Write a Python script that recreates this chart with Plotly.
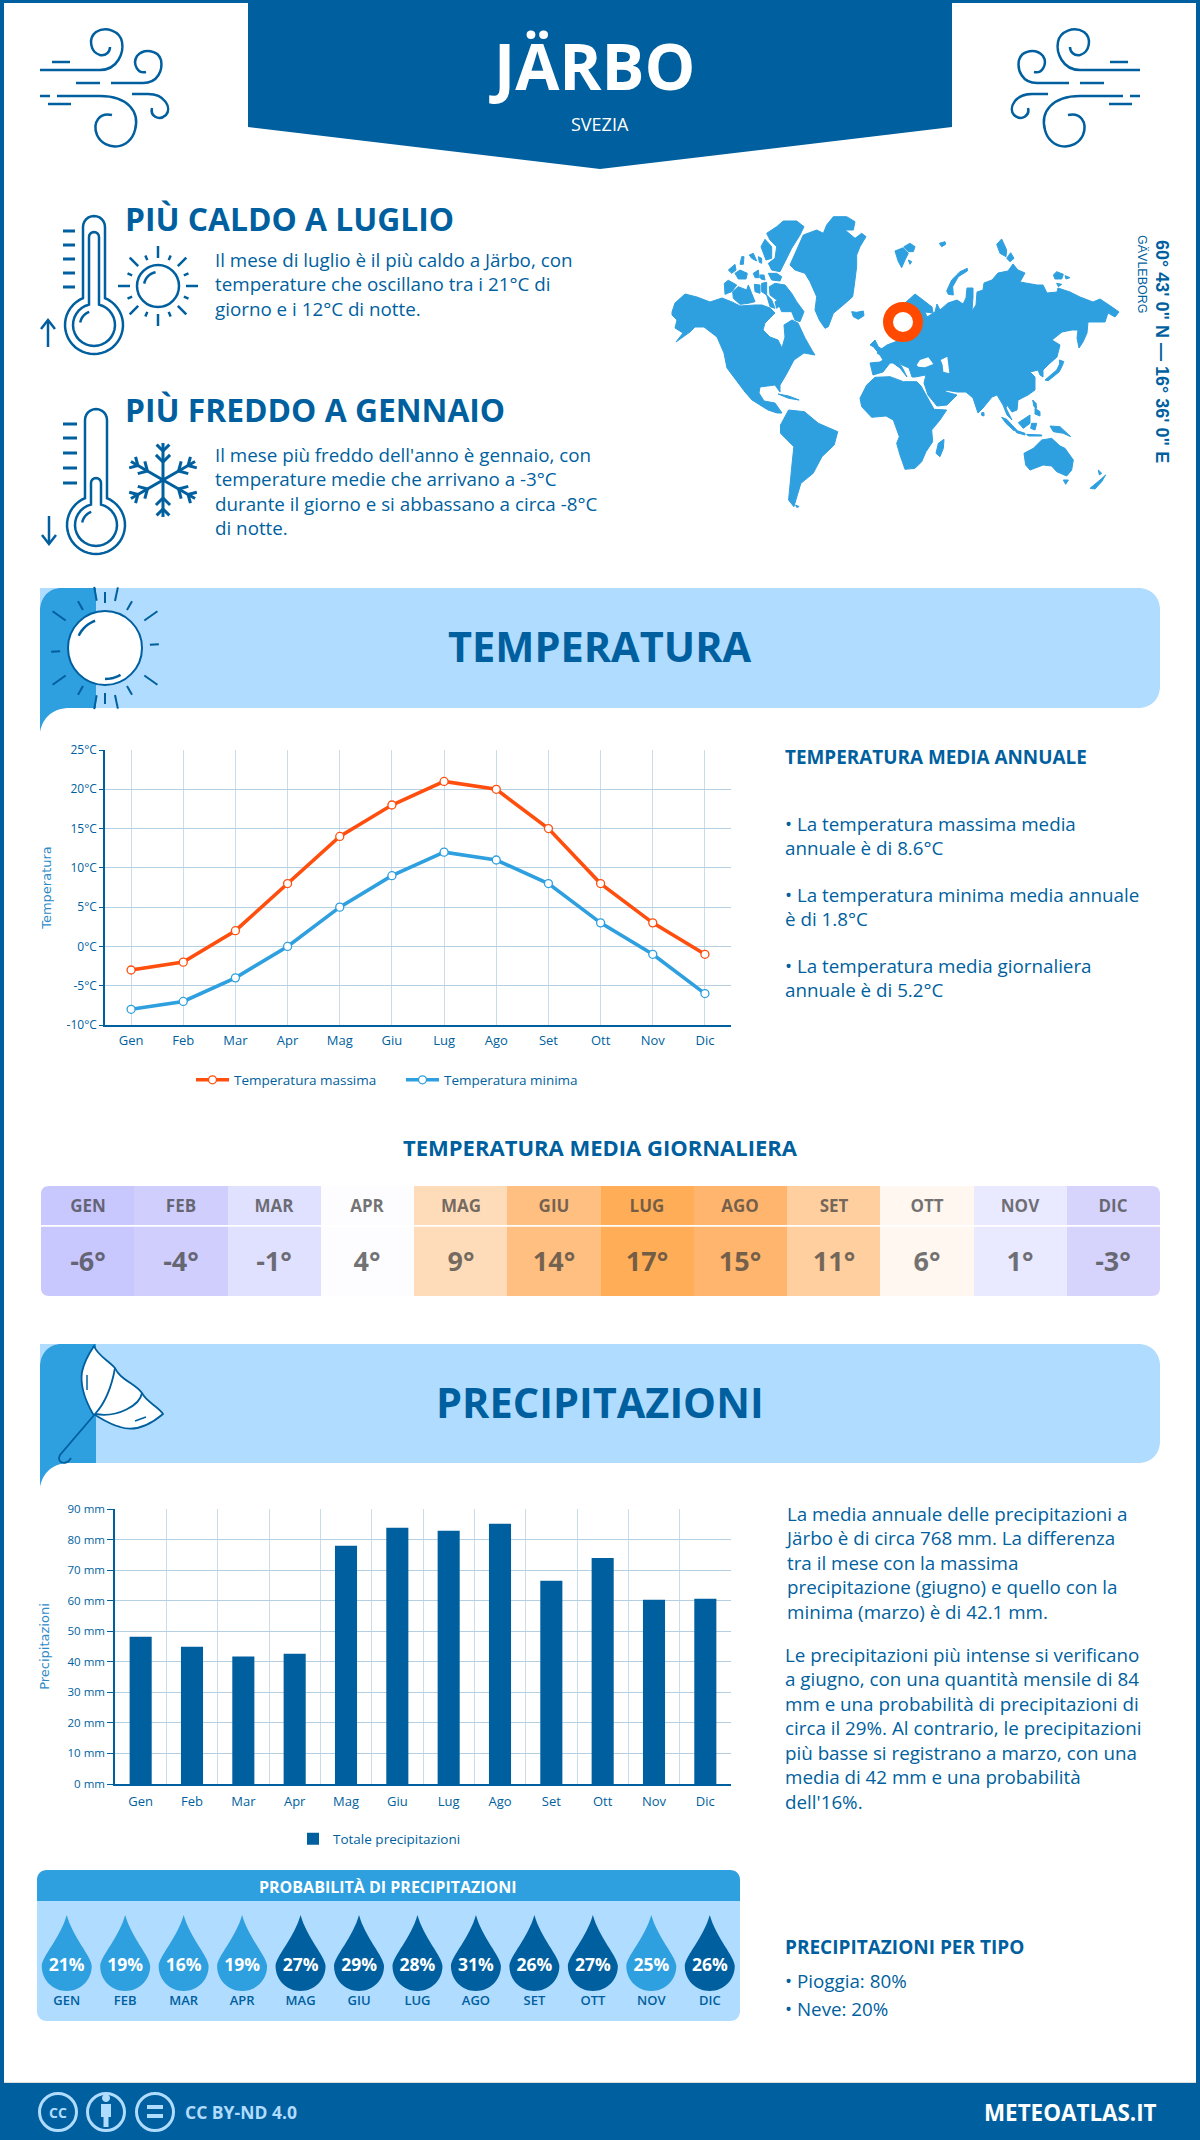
import math
import plotly.graph_objects as go

W, H = 1200, 2140
BLUE = "#005f9e"
MID = "#2e9fdf"
PALE = "#b0dcff"
ORANGE = "#ff4e0d"

months = ["Gen", "Feb", "Mar", "Apr", "Mag", "Giu", "Lug", "Ago", "Set", "Ott", "Nov", "Dic"]
months_up = ["GEN", "FEB", "MAR", "APR", "MAG", "GIU", "LUG", "AGO", "SET", "OTT", "NOV", "DIC"]
temp_max = [-3, -2, 2, 8, 14, 18, 21, 20, 15, 8, 3, -1]
temp_min = [-8, -7, -4, 0, 5, 9, 12, 11, 8, 3, -1, -6]
temp_ticks = [-10, -5, 0, 5, 10, 15, 20, 25]
temp_ticktext = ["-10°C", "-5°C", "0°C", "5°C", "10°C", "15°C", "20°C", "25°C"]
temp_daily = [-6, -4, -1, 4, 9, 14, 17, 15, 11, 6, 1, -3]
temp_daily_text = ["-6°", "-4°", "-1°", "4°", "9°", "14°", "17°", "15°", "11°", "6°", "1°", "-3°"]
daily_scale = [(-6, "#c8c7fe"), (-4, "#cfcefd"), (-3, "#d6d4fd"), (-1, "#e0e0ff"), (1, "#e9e9ff"),
               (4, "#fdfdff"), (6, "#fff7f0"), (9, "#fedcb9"), (11, "#ffcf9f"), (14, "#ffbf80"),
               (15, "#ffb56d"), (17, "#ffad57")]
rain = [48.2, 44.9, 41.7, 42.6, 78, 83.9, 82.9, 85.2, 66.5, 74, 60.3, 60.6]
rain_ticks = [0, 10, 20, 30, 40, 50, 60, 70, 80, 90]
rain_ticktext = ["0 mm", "10 mm", "20 mm", "30 mm", "40 mm", "50 mm", "60 mm", "70 mm", "80 mm", "90 mm"]
rain_prob = [21, 19, 16, 19, 27, 29, 28, 31, 26, 27, 25, 26]
prob_dark = [False, False, False, False, True, True, True, True, True, True, False, True]

# map outlines
NA = [(672,312),(675,303),(685,294),(697,297),(710,302),(722,298),(732,302),(740,306),(755,305),(762,305),
      (770,308),(775,313),(765,323),(763,330),(770,337),(778,340),(782,348),(785,337),(784,325),(792,320),
      (798,323),(805,338),(813,352),(815,355),(804,353),(794,360),(786,375),(780,385),(780,392),(775,385),
      (760,387),(759,393),(764,401),(775,403),(782,413),(777,413),(768,410),(752,400),(745,392),(736,380),
      (727,368),(724,353),(717,337),(704,327),(695,327),(690,332),(676,342),(683,333),(675,328),(677,320),(672,315)]
EURASIA = [(880,350),(887,345),(900,340),(905,303),(915,294),(923,300),(932,307),(933,313),(925,312),(927,317),
           (935,312),(937,304),(940,310),(948,303),(957,300),(963,304),(966,298),(967,288),(973,288),(973,297),
           (972,311),(976,305),(977,292),(983,290),(984,283),(992,280),(998,273),(1008,271),(1013,264),(1018,270),
           (1025,273),(1020,282),(1037,285),(1043,285),(1047,293),(1057,292),(1058,288),(1070,292),(1080,297),
           (1093,302),(1100,299),(1112,307),(1119,312),(1115,317),(1108,313),(1105,322),(1097,322),(1088,322),
           (1087,333),(1083,342),(1079,348),(1077,338),(1078,330),(1072,330),(1062,332),(1052,340),(1060,345),
           (1057,357),(1048,365),(1043,370),(1043,377),(1040,375),(1038,370),(1030,372),(1035,377),(1035,390),
           (1028,395),(1018,400),(1017,410),(1012,412),(1007,405),(1006,408),(1012,420),(1007,415),(1003,405),
           (997,395),(992,397),(983,408),(978,413),(973,398),(966,392),(957,392),(945,390),(942,384),(946,392),
           (957,395),(947,405),(937,406),(928,395),(924,383),(926,375),(915,377),(912,377),(909,368),(902,365),
           (897,359),(903,369),(907,377),(900,368),(893,363),(890,363),(883,372),(873,375),(870,363),(880,362),
           (883,360),(880,355),(877,353),(885,348)]
ARCTIC = [[(320,85),(350,65),(370,48),(410,48),(432,65),(420,90),(395,130),(375,170),(360,200),(335,195),(325,175),(345,160),(350,125),(330,105)],
          [(303,125),(315,103),(335,125),(335,160),(318,165)],
          [(205,195),(225,178),(228,195),(215,205)], [(225,205),(240,195),(262,205),(258,222),(235,222)],
          [(280,205),(295,195),(298,218),(285,218)], [(268,150),(280,145),(290,168),(275,160)],
          [(295,155),(305,160),(305,175),(298,172)], [(245,155),(252,155),(250,178),(240,178)],
          [(325,205),(350,205),(365,215),(360,228),(335,225)], [(300,210),(312,210),(315,225),(303,222)],
          [(193,235),(205,226),(230,240),(215,260),(195,268)],
          [(218,260),(235,245),(260,255),(265,240),(275,265),(285,290),(265,295),(240,298),(220,280)],
          [(283,238),(300,240),(300,265),(285,260)], [(305,235),(320,232),(320,270),(305,260)],
          [(328,245),(345,235),(375,240),(395,265),(410,290),(432,320),(420,350),(405,345),(395,320),(365,320),(350,285),(330,270)],
          [(320,270),(335,285),(345,310),(330,305)], [(345,290),(360,285),(362,300),(350,310)],
          [(390,180),(410,135),(430,90),(470,75),(490,85),(500,60),(520,35),(560,35),(585,50),(580,75),(555,75),(585,100),(605,85),(618,95),
           (600,125),(590,150),(590,185),(583,240),(578,275),(550,300),(520,325),(505,365),(495,370),(478,345),(465,315),(470,275),(450,230),(435,205),(405,195)],
          [(575,320),(590,322),(610,318),(612,332),(595,343),(580,335)]]
NORTH = [[(45,138),(70,128),(85,145),(75,165),(65,188),(55,170)], [(72,125),(90,115),(105,125),(100,140),(85,140)],
         [(85,165),(95,170),(90,178)], [(178,115),(195,110),(197,118),(185,125)],
         [(350,118),(365,102),(380,135),(378,155),(360,145)], [(380,160),(392,143),(402,160),(390,170)],
         [(205,268),(200,258),(215,225),(240,200),(262,190),(262,198),(235,215),(218,245),(220,270)],
         [(520,210),(530,200),(550,208),(545,222),(525,222)], [(555,212),(570,218),(558,222)], [(530,235),(545,238),(535,245)]]
SOUTH = [[(0,175),(20,135),(45,112),(90,110),(130,125),(170,125),(183,138),(222,208),(260,210),(240,240),(215,270),(218,305),(198,335),(185,365),(165,385),(135,388),(120,345),(110,310),(118,290),(100,240),(78,228),(35,232),(5,200)],
         [(228,340),(235,310),(252,298),(250,325),(240,350)], [(365,218),(372,218),(372,228),(365,226)],
         [(425,232),(440,238),(470,270),(462,272),(438,250)], [(465,270),(495,280),(495,285),(470,278)],
         [(475,248),(495,235),(510,225),(510,250),(490,265)], [(515,250),(530,250),(525,270),(512,265)],
         [(570,258),(600,260),(632,290),(610,280),(580,275)], [(518,180),(528,190),(530,205),(522,200)],
         [(525,205),(540,215),(540,228),(525,222)], [(500,283),(545,285),(545,288),(505,288)],
         [(470,170),(482,172),(478,180)], [(555,120),(590,90),(600,70),(610,70),(598,95),(565,122)],
         [(598,60),(612,65),(600,78)], [(30,15),(45,0),(55,20),(70,30),(55,38),(40,20)],
         [(492,340),(520,325),(545,300),(575,295),(600,318),(615,325),(640,360),(635,390),(620,408),(590,395),(575,378),(550,375),(510,390),(497,375)],
         [(610,420),(625,420),(617,433)], [(690,445),(720,420),(737,405),(725,425),(705,447)], [(715,390),(725,400),(718,405)]]
AMERICA_S = [[(372,705),(395,660),(440,665),(480,700),(535,725),(525,765),(490,800),(465,850),(430,880),(410,950),(395,930),(405,820),(410,770),(372,730)],
             [(415,945),(425,950),(418,952)], [(365,612),(395,618),(425,630),(395,625)]]
SEAS = [[(170,75),(180,60),(205,52),(220,72),(195,82),(175,80)], [(242,60),(262,50),(265,75),(268,100),(250,95),(248,75)]]


def fx(x):
    return x / W


def fy(y):
    return 1 - y / H


def poly(pts, close=True):
    s = "M " + " L ".join(f"{fx(x):.5f},{fy(y):.5f}" for x, y in pts)
    return s + (" Z" if close else "")


def curve(*parts):
    # parts are (cmd, points); plotly wants one command letter per segment
    out = []
    for cmd, pts in parts:
        step = 3 if cmd == "C" else 1
        for i in range(0, len(pts), step):
            out.append(cmd + " " + " ".join(f"{fx(x):.5f},{fy(y):.5f}" for x, y in pts[i:i + step]))
    return " ".join(out)


shapes = []


def fill(path, color, layer="above", edge=0):
    shapes.append(dict(type="path", xref="paper", yref="paper", path=path, fillcolor=color,
                       line=dict(width=edge, color=color), layer=layer))


def stroke(path, color=BLUE, width=2.5, bg=None):
    shapes.append(dict(type="path", xref="paper", yref="paper", path=path,
                       fillcolor=bg if bg else "rgba(0,0,0,0)",
                       line=dict(color=color, width=width), layer="above"))


def rect(x0, y0, x1, y1, color, layer="above"):
    shapes.append(dict(type="rect", xref="paper", yref="paper", x0=fx(x0), x1=fx(x1), y0=fy(y0), y1=fy(y1),
                       fillcolor=color, line=dict(width=0), layer=layer))


def circle(cx, cy, r, color=BLUE, width=2.5, bg=None):
    shapes.append(dict(type="circle", xref="paper", yref="paper", x0=fx(cx - r), x1=fx(cx + r),
                       y0=fy(cy - r), y1=fy(cy + r), fillcolor=bg if bg else "rgba(0,0,0,0)",
                       line=dict(color=color, width=width), layer="above"))


def arc(cx, cy, r, a0, a1, n=24):
    return [(cx + r * math.cos(math.radians(a0 + (a1 - a0) * i / n)),
             cy + r * math.sin(math.radians(a0 + (a1 - a0) * i / n))) for i in range(n + 1)]


def seg(x0, y0, x1, y1, width=2.5):
    stroke(poly([(x0, y0), (x1, y1)], close=False), width=width)


annotations = []


def note(text, x, y, size, color=BLUE, weight=400, anchor="left", family="Open Sans", angle=0):
    # left aligned notes sit about 2px right of x because of the annotation padding
    if anchor == "left":
        x -= 2
    annotations.append(dict(text=text, x=fx(x), y=fy(y), xref="paper", yref="paper", showarrow=False,
                            xanchor=anchor, yanchor="middle", align=anchor, textangle=angle,
                            font=dict(size=size, color=color, family=family, weight=weight)))


# page frame and header
rect(0, 0, 4, H, BLUE)
rect(W - 4, 0, W, H, BLUE)
rect(0, 0, W, 3, BLUE)
fill(poly([(248, 0), (952, 0), (952, 127), (600, 169), (248, 127)]), BLUE)
note("JÄRBO", 592, 65, 64, "white", 700, "center")
note("SVEZIA", 600, 124, 18, "white", 400, "center")


def wind(mirror):
    m = (lambda p: (1180 - p[0], p[1])) if mirror else (lambda p: p)
    c = lambda pts: [m(p) for p in pts]
    stroke(curve(("M", c([(40, 70)])), ("L", c([(100, 70)])),
                 ("C", c([(118, 70), (124, 52), (122, 42), (120, 31), (106, 26), (96, 32), (88, 38), (90, 52), (100, 55), (106, 56), (110, 52), (110, 47)]))))
    stroke(curve(("M", c([(111, 83)])), ("L", c([(143, 83)])),
                 ("C", c([(158, 83), (163, 70), (161, 60), (158, 50), (144, 48), (137, 56), (132, 64), (138, 74), (146, 72)]))))
    stroke(curve(("M", c([(57, 96)])), ("L", c([(100, 96)])),
                 ("C", c([(128, 96), (140, 112), (135, 130), (130, 150), (105, 152), (97, 135), (92, 122), (100, 112), (112, 115)]))))
    stroke(curve(("M", c([(132, 94)])), ("L", c([(148, 94)])),
                 ("C", c([(165, 94), (172, 108), (166, 115), (158, 122), (150, 115), (152, 108)]))))
    for a, b, y in [(52, 70, 62), (76, 100, 83), (40, 50, 96), (48, 71, 104)]:
        stroke(poly(c([(a, y), (b, y)]), close=False))


wind(False)
wind(True)


def thermo(cx, top, by, ticks, tx0, tx1, inner_top):
    a = math.degrees(math.asin(11 / 29))
    outer = arc(cx, top + 11, 11, 180, 360, 12) + arc(cx, by, 29, -90 + a, 270 - a, 40)
    stroke(poly(outer))
    b = math.degrees(math.asin(5 / 21))
    inner = arc(cx, inner_top + 5, 5, 180, 360, 8) + arc(cx, by, 21, -90 + b, 270 - b, 30)
    stroke(poly(inner))
    stroke(poly(arc(cx, by, 14, 190, 250, 8), close=False))
    for y in ticks:
        seg(tx0, y, tx1, y, 3)


thermo(94, 216, 325, [231, 245, 259, 273, 287], 63, 75, 232)
seg(48, 347, 48, 321)
stroke(poly([(41, 329), (48, 320), (55, 329)], close=False))
thermo(96, 409, 525, [424, 438, 453, 468, 483], 63, 77, 478)
seg(49, 516, 49, 544)
stroke(poly([(42, 535), (49, 544), (56, 535)], close=False))

# small sun
circle(158, 286, 21)
stroke(poly(arc(158, 286, 14, 190, 260, 8), close=False))
for i in range(16):
    ang = math.radians(i * 22.5)
    r0, r1 = (28, 40) if i % 2 == 0 else (28, 33)
    seg(158 + r0 * math.cos(ang), 286 + r0 * math.sin(ang), 158 + r1 * math.cos(ang), 286 + r1 * math.sin(ang))

# snowflake
for i in range(6):
    ang = math.radians(90 + i * 60)
    ca, sa = math.cos(ang), math.sin(ang)
    seg(163, 480, 163 + 37 * ca, 480 + 37 * sa, 3)
    for d, l in [(18, 10), (29, 9)]:
        for s in (-1, 1):
            a2 = ang + s * math.radians(45)
            px_, py_ = 163 + d * ca, 480 + d * sa
            seg(px_, py_, px_ + l * math.cos(a2), py_ + l * math.sin(a2), 3)

note("PIÙ CALDO A LUGLIO", 125, 218, 31.8, BLUE, 700)
note("Il mese di luglio è il più caldo a Järbo, con<br>temperature che oscillano tra i 21°C di<br>giorno e i 12°C di notte.", 215, 285, 18.8)
note("PIÙ FREDDO A GENNAIO", 125, 409.5, 31.8, BLUE, 700)
note("Il mese più freddo dell'anno è gennaio, con<br>temperature medie che arrivano a -3°C<br>durante il giorno e si abbassano a circa -8°C<br>di notte.", 215, 492, 18.8)

# world map
land = []
land.append(poly(NA))
land.append(poly(EURASIA))
for p in ARCTIC:
    land.append(poly([(660 + x / 3, 205 + y / 3) for x, y in p]))
for p in NORTH:
    land.append(poly([(880 + x / 3, 205 + y / 3) for x, y in p]))
for p in SOUTH:
    land.append(poly([(860 + x / 3, 340 + y / 3) for x, y in p]))
for p in AMERICA_S:
    land.append(poly([(650 + x / 2.85, 190 + y / 3) for x, y in p]))
for part in land:
    fill(part, MID, edge=1)
for p in SEAS:
    fill(poly([(860 + x / 3, 340 + y / 3) for x, y in p]), "white")
circle(903, 322, 15, "#ff4a00", 10, "white")
note("60° 43' 0\" N — 16° 36' 0\" E", 1162, 351, 18, BLUE, 700, "center", "Liberation Sans", 90)
note("GÄVLEBORG", 1142, 274, 12.5, BLUE, 400, "center", "Liberation Sans", 90)


def band(y0, y1, title, ty):
    r = 22
    fill(curve(("M", [(40, y0)]), ("L", [(1160 - r, y0)]),
               ("C", [(1152, y0), (1160, y0 + 10), (1160, y0 + r)]), ("L", [(1160, y1 - r)]),
               ("C", [(1160, y1 - 10), (1152, y1), (1160 - r, y1)]), ("L", [(40, y1)])) + " Z", PALE)
    fill(curve(("M", [(96, y0)]), ("L", [(62, y0)]),
               ("C", [(48, y0), (40, y0 + 10), (40, y0 + 24)]), ("L", [(40, y1 + 24)]),
               ("C", [(43, y1 + 10), (52, y1), (70, y1)]), ("L", [(96, y1)])) + " Z", MID)
    note(title, 600, ty, 41.5, BLUE, 700, "center")


band(588, 708, "TEMPERATURA", 645.5)
band(1344, 1463, "PRECIPITAZIONI", 1402)

# big sun on the band
for i, (a, r0, r1) in enumerate([(-100, 48, 62), (-90, 45, 56), (-78, 48, 62), (-60, 44, 54), (-35, 48, 64), (-4, 45, 54),
                                 (35, 48, 64), (60, 44, 54), (78, 48, 62), (90, 45, 56), (100, 48, 62), (120, 44, 54),
                                 (145, 48, 64), (176, 45, 54), (215, 48, 64), (240, 44, 54)]):
    ang = math.radians(a)
    seg(105 + r0 * math.cos(ang), 648 + r0 * math.sin(ang), 105 + r1 * math.cos(ang), 648 + r1 * math.sin(ang), 2)
circle(105, 648, 37, BLUE, 2, "white")
stroke(poly(arc(105, 648, 29, 205, 250, 8), close=False))
stroke(poly(arc(105, 648, 31, 60, 90, 6), close=False))

# umbrella on the band
stroke(curve(("M", [(94, 1346)]), ("C", [(98, 1356), (108, 1360), (115, 1368), (120, 1380), (135, 1383), (142, 1393), (146, 1402), (158, 1406), (163, 1414)]),
             ("C", [(150, 1425), (135, 1432), (120, 1427), (108, 1424), (96, 1415), (93, 1414)]),
             ("C", [(85, 1400), (80, 1385), (82, 1372), (84, 1362), (90, 1352), (94, 1346)])) + " Z", BLUE, 1.8, "white")
stroke(curve(("M", [(115, 1368)]), ("C", [(112, 1385), (106, 1402), (95, 1414)])), BLUE, 1.8)
stroke(curve(("M", [(142, 1393)]), ("C", [(140, 1405), (118, 1418), (95, 1414)])), BLUE, 1.8)
stroke(curve(("M", [(95, 1414)]), ("L", [(60, 1455)]), ("C", [(56, 1463), (66, 1466), (71, 1458)])), BLUE, 1.8)
seg(87, 1375, 87, 1390, 1.5)
seg(135, 1421, 146, 1417, 1.5)

# text next to the charts
note("TEMPERATURA MEDIA ANNUALE", 785, 757, 18.9, BLUE, 700)
note("• La temperatura massima media<br>annuale è di 8.6°C", 785, 836, 18.8)
note("• La temperatura minima media annuale<br>è di 1.8°C", 785, 907, 18.8)
note("• La temperatura media giornaliera<br>annuale è di 5.2°C", 785, 978, 18.8)
note("TEMPERATURA MEDIA GIORNALIERA", 600, 1147, 22, BLUE, 700, "center")
note("La media annuale delle precipitazioni a<br>Järbo è di circa 768 mm. La differenza<br>tra il mese con la massima<br>precipitazione (giugno) e quello con la<br>minima (marzo) è di 42.1 mm.", 785, 1563, 18.8)
note("Le precipitazioni più intense si verificano<br>a giugno, con una quantità mensile di 84<br>mm e una probabilità di precipitazioni di<br>circa il 29%. Al contrario, le precipitazioni<br>più basse si registrano a marzo, con una<br>media di 42 mm e una probabilità<br>dell'16%.", 785, 1728, 18.8)
note("PRECIPITAZIONI PER TIPO", 785, 1947, 19, BLUE, 700)
note("• Pioggia: 80%", 785, 1981, 18.8)
note("• Neve: 20%", 785, 2009, 18.8)

# probability panel
fill(curve(("M", [(37, 1901)]), ("L", [(37, 2011)]), ("C", [(37, 2017), (41, 2021), (47, 2021)]), ("L", [(730, 2021)]),
           ("C", [(736, 2021), (740, 2017), (740, 2011)]), ("L", [(740, 1901)])) + " Z", PALE, "below")
fill(curve(("M", [(37, 1901)]), ("L", [(37, 1880)]), ("C", [(37, 1874), (41, 1870), (47, 1870)]), ("L", [(730, 1870)]),
           ("C", [(736, 1870), (740, 1874), (740, 1880)]), ("L", [(740, 1901)])) + " Z", MID, "below")
note("PROBABILITÀ DI PRECIPITAZIONI", 388, 1887, 16, "white", 700, "center")

DROP = "M 0,76 C 6,54 25,34 25,25 C 25,11 14,0 0,0 C -14,0 -25,11 -25,25 C -25,34 -6,54 0,76 Z"
for i, dark in enumerate(prob_dark):
    shapes.append(dict(type="path", xref="x5", yref="y5", xsizemode="pixel", xanchor=i, path=DROP,
                       fillcolor=BLUE if dark else MID, line=dict(width=0), layer="below"))

# rounded corners of the daily table
for cx, cy, dx, dy in [(41, 1186, 1, 1), (1160, 1186, -1, 1), (41, 1296, 1, -1), (1160, 1296, -1, -1)]:
    fill(curve(("M", [(cx, cy)]), ("L", [(cx + 8 * dx, cy)]),
               ("C", [(cx + 3 * dx, cy), (cx, cy + 3 * dy), (cx, cy + 8 * dy)])) + " Z", "white")

# footer
rect(4, 2082, W - 4, 2083.5, "#dddddd")
rect(0, 2083, W, H, BLUE)
for cx in (58, 106, 155):
    circle(cx, 2112, 18.5, PALE, 3)
note("CC", 58, 2112, 14, PALE, 700, "center")
circle(106, 2098, 3.5, PALE, 1, PALE)
rect(101, 2104, 111, 2117, PALE)
rect(103.5, 2117, 108.5, 2127, PALE)
rect(147, 2105, 163, 2109, PALE)
rect(147, 2114, 163, 2118, PALE)
note("CC BY-ND 4.0", 185, 2112, 17.5, PALE, 700)
note("METEOATLAS.IT", 1159, 2112, 22.4, "white", 700, "right")

fig = go.Figure()

# temperature lines
for name, vals, col in [("Temperatura massima", temp_max, ORANGE), ("Temperatura minima", temp_min, MID)]:
    fig.add_trace(go.Scatter(x=months, y=vals, name=name, mode="lines+markers", xaxis="x", yaxis="y",
                             line=dict(color=col, width=3.6),
                             marker=dict(size=8, color="white", line=dict(color=col, width=1.3)),
                             legend="legend"))

# rain bars
fig.add_trace(go.Bar(x=months, y=rain, name="Totale precipitazioni", xaxis="x2", yaxis="y2",
                     marker=dict(color=BLUE, line=dict(width=0)), legend="legend2"))

# daily temperature cells
lo, hi = daily_scale[0][0], daily_scale[-1][0]
colorscale = [[(v - lo) / (hi - lo), c] for v, c in daily_scale]
cell_font = dict(family="Open Sans", color="rgba(62,62,62,0.72)", weight=700)
fig.add_trace(go.Heatmap(x=months_up, y=[0], z=[temp_daily], text=[months_up], texttemplate="%{text}",
                         textfont=dict(size=17, **cell_font), colorscale=colorscale, zmin=lo, zmax=hi,
                         showscale=False, xgap=0, xaxis="x3", yaxis="y3", hoverinfo="skip"))
fig.add_trace(go.Heatmap(x=months_up, y=[0], z=[temp_daily], text=[temp_daily_text], texttemplate="%{text}",
                         textfont=dict(size=27, **cell_font), colorscale=colorscale, zmin=lo, zmax=hi,
                         showscale=False, xaxis="x4", yaxis="y4", hoverinfo="skip"))

# percent labels in the drops
fig.add_trace(go.Scatter(x=list(range(12)), y=[24] * 12, mode="text", text=[f"{p}%" for p in rain_prob],
                         textfont=dict(family="Open Sans", size=17.5, color="white", weight=700),
                         xaxis="x5", yaxis="y5", showlegend=False, hoverinfo="skip"))

tick_font = dict(family="Open Sans", size=12, color=BLUE)
month_font = dict(family="Open Sans", size=13, color=BLUE)
hidden = dict(visible=False, fixedrange=True)

fig.update_layout(
    width=W, height=H, margin=dict(l=0, r=0, t=0, b=0, pad=0, autoexpand=False), paper_bgcolor="white", plot_bgcolor="white",
    autosize=False, shapes=shapes, annotations=annotations, bargap=0.57,
    font=dict(family="Open Sans", color=BLUE),
    xaxis=dict(domain=[fx(105), fx(731)], anchor="y", range=[-0.5, 11.5], type="category",
               showgrid=True, gridcolor="#c8dcea", gridwidth=1, tickfont=month_font, ticks="",
               showline=True, linecolor=BLUE, linewidth=1.5, ticklabelstandoff=3),
    yaxis=dict(domain=[fy(1025), fy(750)], anchor="x", range=[-10, 25], tickvals=temp_ticks, ticktext=temp_ticktext,
               showgrid=True, gridcolor="#b5d0e3", gridwidth=1.3, zeroline=False, tickfont=tick_font,
               ticks="outside", ticklen=4, tickcolor=BLUE, showline=True, linecolor=BLUE, linewidth=1.5,
               title=dict(text="Temperatura", font=dict(family="DejaVu Sans", size=13, color="#2e8bc8"), standoff=12)),
    xaxis2=dict(domain=[fx(115), fx(731)], anchor="y2", type="category", tickson="boundaries", range=[-0.5, 11.5],
                showgrid=True, gridcolor="#c8dcea", gridwidth=1, tickfont=month_font, ticks="",
                showline=True, linecolor=BLUE, linewidth=1.5, ticklabelstandoff=5),
    yaxis2=dict(domain=[fy(1784), fy(1509)], anchor="x2", range=[0, 90], tickvals=rain_ticks, ticktext=rain_ticktext,
                showgrid=True, gridcolor="#b5d0e3", gridwidth=1.3, zeroline=False, tickfont=dict(tick_font, size=11.5),
                ticks="outside", ticklen=6, tickcolor=BLUE, showline=True, linecolor=BLUE, linewidth=1.5,
                title=dict(text="Precipitazioni", font=dict(family="DejaVu Sans", size=13, color="#2e8bc8"), standoff=15)),
    xaxis3=dict(domain=[fx(41), fx(1160)], anchor="y3", **hidden),
    yaxis3=dict(domain=[fy(1225), fy(1186)], anchor="x3", **hidden),
    xaxis4=dict(domain=[fx(41), fx(1160)], anchor="y4", **hidden),
    yaxis4=dict(domain=[fy(1296), fy(1226.5)], anchor="x4", **hidden),
    xaxis5=dict(domain=[fx(37.5), fx(739)], anchor="y5", range=[-0.5, 11.5], tickvals=list(range(12)),
                ticktext=months_up, showgrid=False, zeroline=False, showline=False, ticks="",
                tickfont=dict(family="Open Sans", size=13, color=BLUE, weight=600), ticklabelstandoff=0, fixedrange=True),
    yaxis5=dict(domain=[fy(1991), fy(1915)], anchor="x5", range=[0, 76], **hidden),
    legend=dict(orientation="h", x=fx(191), y=fy(1080), xanchor="left", yanchor="middle", itemwidth=33,
                entrywidth=162, entrywidthmode="pixels",
                font=dict(family="Open Sans", size=13.5, color=BLUE), bgcolor="rgba(0,0,0,0)"),
    legend2=dict(orientation="h", x=fx(293), y=fy(1839), xanchor="left", yanchor="middle", itemwidth=30,
                 font=dict(family="Open Sans", size=13.5, color=BLUE), bgcolor="rgba(0,0,0,0)"),
    showlegend=True,
)

fig.write_html("out.html", config=dict(displayModeBar=False),
               post_script="document.body.style.margin='0';document.documentElement.style.overflow='hidden';")
